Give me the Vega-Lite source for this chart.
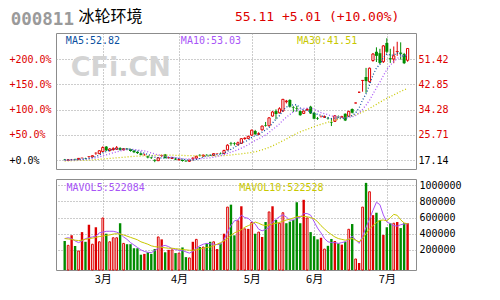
{
"$schema":"https://vega.github.io/schema/vega-lite/v6.json",
"background":"white",
"padding":{"left":8,"top":8,"right":35,"bottom":17},
"spacing":10,
"bounds":"flush",
"config":{"view":{"stroke":"#8c8c8c","strokeWidth":1},"axis":{"labelFont":"DejaVu Sans Mono","labelFontSize":10,"gridColor":"#9a9a9a","gridDash":[1,2],"gridWidth":1,"domain":false,"ticks":false,"labelColor":"#000000"}},
"datasets":{"k":[
{"d":0,"o":17.35,"h":17.5,"l":17.1,"c":17.25,"ck":"dn","v":310000,"vk":"dn","m5":17.2,"m10":17.0,"m30":16.8,"mv5":340000,"mv10":340000},
{"d":1,"o":17.0,"h":17.3,"l":16.9,"c":17.25,"ck":"up","v":256000,"vk":"up","m5":17.2,"m10":17.05,"m30":16.85,"mv5":350000,"mv10":335000},
{"d":2,"o":17.4,"h":17.5,"l":17.2,"c":17.3,"ck":"upS","v":380000,"vk":"upS","m5":17.25,"m10":17.1,"m30":16.9,"mv5":340000,"mv10":330000},
{"d":3,"o":17.4,"h":17.6,"l":17.2,"c":17.3,"ck":"dn","v":248000,"vk":"dn","m5":17.27,"m10":17.15,"m30":16.95,"mv5":310000,"mv10":320000},
{"d":4,"o":17.4,"h":17.8,"l":17.3,"c":17.7,"ck":"up","v":186000,"vk":"up","m5":17.36,"m10":17.2,"m30":17.0,"mv5":290000,"mv10":315000},
{"d":5,"o":17.9,"h":18.0,"l":17.6,"c":17.8,"ck":"upS","v":420000,"vk":"upS","m5":17.47,"m10":17.3,"m30":17.05,"mv5":310000,"mv10":320000},
{"d":6,"o":17.8,"h":17.9,"l":17.5,"c":17.7,"ck":"dn","v":300000,"vk":"dn","m5":17.56,"m10":17.45,"m30":17.1,"mv5":340000,"mv10":330000},
{"d":7,"o":18.4,"h":18.5,"l":17.9,"c":18.2,"ck":"upS","v":510000,"vk":"upS","m5":17.74,"m10":17.55,"m30":17.15,"mv5":350000,"mv10":340000},
{"d":8,"o":18.2,"h":18.7,"l":18.1,"c":18.6,"ck":"up","v":270000,"vk":"up","m5":18.0,"m10":17.7,"m30":17.2,"mv5":360000,"mv10":345000},
{"d":9,"o":19.6,"h":19.8,"l":18.9,"c":19.4,"ck":"upS","v":480000,"vk":"upS","m5":18.34,"m10":17.85,"m30":17.3,"mv5":370000,"mv10":355000},
{"d":10,"o":19.3,"h":20.4,"l":19.2,"c":20.3,"ck":"up","v":300000,"vk":"up","m5":18.84,"m10":18.16,"m30":17.4,"mv5":410000,"mv10":365000},
{"d":11,"o":20.0,"h":21.8,"l":19.9,"c":21.4,"ck":"up","v":595000,"vk":"up","m5":19.58,"m10":18.57,"m30":17.5,"mv5":420000,"mv10":370000},
{"d":12,"o":21.7,"h":21.9,"l":20.2,"c":20.4,"ck":"dn","v":400000,"vk":"dn","m5":20.02,"m10":18.88,"m30":17.6,"mv5":430000,"mv10":380000},
{"d":13,"o":20.4,"h":21.2,"l":20.0,"c":20.9,"ck":"up","v":300000,"vk":"up","m5":20.48,"m10":19.24,"m30":17.7,"mv5":430000,"mv10":385000},
{"d":14,"o":20.7,"h":21.5,"l":20.3,"c":21.0,"ck":"up","v":350000,"vk":"up","m5":20.8,"m10":19.57,"m30":17.8,"mv5":430000,"mv10":395000},
{"d":15,"o":20.8,"h":21.9,"l":20.6,"c":21.3,"ck":"up","v":350000,"vk":"up","m5":21.0,"m10":19.92,"m30":17.9,"mv5":420000,"mv10":400000},
{"d":16,"o":21.2,"h":21.5,"l":20.3,"c":20.6,"ck":"dn","v":530000,"vk":"dn","m5":20.84,"m10":20.21,"m30":18.0,"mv5":400000,"mv10":395000},
{"d":17,"o":20.6,"h":21.2,"l":20.4,"c":21.0,"ck":"up","v":280000,"vk":"up","m5":20.96,"m10":20.49,"m30":18.1,"mv5":360000,"mv10":385000},
{"d":18,"o":21.0,"h":21.2,"l":20.5,"c":20.8,"ck":"dn","v":270000,"vk":"dn","m5":20.94,"m10":20.71,"m30":18.2,"mv5":330000,"mv10":370000},
{"d":19,"o":20.8,"h":21.0,"l":20.0,"c":20.2,"ck":"dn","v":270000,"vk":"dn","m5":20.78,"m10":20.79,"m30":18.3,"mv5":290000,"mv10":355000},
{"d":20,"o":20.3,"h":20.5,"l":19.5,"c":19.8,"ck":"dn","v":220000,"vk":"dn","m5":20.48,"m10":20.74,"m30":18.4,"mv5":260000,"mv10":340000},
{"d":21,"o":19.9,"h":20.1,"l":19.2,"c":19.5,"ck":"dn","v":220000,"vk":"dn","m5":20.26,"m10":20.55,"m30":18.45,"mv5":230000,"mv10":325000},
{"d":22,"o":19.4,"h":19.6,"l":18.7,"c":18.9,"ck":"dn","v":140000,"vk":"dn","m5":19.84,"m10":20.4,"m30":18.5,"mv5":200000,"mv10":300000},
{"d":23,"o":19.1,"h":19.3,"l":18.6,"c":19.0,"ck":"upS","v":150000,"vk":"upS","m5":19.48,"m10":20.21,"m30":18.55,"mv5":180000,"mv10":285000},
{"d":24,"o":18.4,"h":18.6,"l":17.7,"c":18.0,"ck":"dn","v":170000,"vk":"dn","m5":19.04,"m10":19.91,"m30":18.6,"mv5":170000,"mv10":270000},
{"d":25,"o":18.0,"h":18.2,"l":17.5,"c":17.8,"ck":"dn","v":150000,"vk":"dn","m5":18.64,"m10":19.56,"m30":18.65,"mv5":165000,"mv10":250000},
{"d":26,"o":17.2,"h":17.4,"l":16.4,"c":16.9,"ck":"dn","v":210000,"vk":"dn","m5":18.12,"m10":19.19,"m30":18.7,"mv5":190000,"mv10":240000},
{"d":27,"o":16.9,"h":18.1,"l":16.8,"c":17.9,"ck":"up","v":360000,"vk":"up","m5":17.92,"m10":18.88,"m30":18.7,"mv5":220000,"mv10":235000},
{"d":28,"o":18.8,"h":19.0,"l":18.2,"c":18.5,"ck":"upS","v":330000,"vk":"upS","m5":17.82,"m10":18.65,"m30":18.75,"mv5":245000,"mv10":230000},
{"d":29,"o":19.0,"h":19.2,"l":17.7,"c":17.8,"ck":"dn","v":170000,"vk":"dn","m5":17.78,"m10":18.41,"m30":18.8,"mv5":256000,"mv10":225000},
{"d":30,"o":18.1,"h":18.2,"l":17.6,"c":17.9,"ck":"upS","v":200000,"vk":"upS","m5":17.8,"m10":18.22,"m30":18.8,"mv5":240000,"mv10":220000},
{"d":31,"o":17.7,"h":18.0,"l":17.5,"c":17.9,"ck":"up","v":200000,"vk":"up","m5":18.0,"m10":18.06,"m30":18.8,"mv5":215000,"mv10":220000},
{"d":32,"o":17.6,"h":17.8,"l":17.1,"c":17.3,"ck":"dn","v":160000,"vk":"dn","m5":17.88,"m10":17.9,"m30":18.75,"mv5":205000,"mv10":215000},
{"d":33,"o":17.2,"h":17.6,"l":17.0,"c":17.4,"ck":"up","v":160000,"vk":"up","m5":17.66,"m10":17.74,"m30":18.7,"mv5":195000,"mv10":210000},
{"d":34,"o":17.2,"h":17.3,"l":16.6,"c":16.8,"ck":"dn","v":230000,"vk":"dn","m5":17.46,"m10":17.62,"m30":18.7,"mv5":190000,"mv10":205000},
{"d":35,"o":16.9,"h":17.0,"l":16.5,"c":16.7,"ck":"dn","v":110000,"vk":"dn","m5":17.22,"m10":17.51,"m30":18.65,"mv5":175000,"mv10":200000},
{"d":36,"o":16.7,"h":17.2,"l":16.5,"c":17.1,"ck":"up","v":100000,"vk":"up","m5":17.06,"m10":17.53,"m30":18.6,"mv5":160000,"mv10":195000},
{"d":37,"o":17.9,"h":18.1,"l":17.0,"c":17.6,"ck":"upS","v":300000,"vk":"upS","m5":17.12,"m10":17.5,"m30":18.6,"mv5":180000,"mv10":195000},
{"d":38,"o":17.8,"h":18.6,"l":17.6,"c":18.4,"ck":"up","v":330000,"vk":"up","m5":17.32,"m10":17.49,"m30":18.55,"mv5":220000,"mv10":200000},
{"d":39,"o":18.9,"h":19.1,"l":18.4,"c":18.7,"ck":"dn","v":235000,"vk":"dn","m5":17.7,"m10":17.58,"m30":18.55,"mv5":250000,"mv10":210000},
{"d":40,"o":18.5,"h":19.0,"l":18.2,"c":18.8,"ck":"up","v":235000,"vk":"up","m5":18.12,"m10":17.67,"m30":18.55,"mv5":270000,"mv10":220000},
{"d":41,"o":18.9,"h":19.1,"l":18.6,"c":18.8,"ck":"dn","v":280000,"vk":"dn","m5":18.46,"m10":17.76,"m30":18.55,"mv5":280000,"mv10":230000},
{"d":42,"o":18.9,"h":19.0,"l":18.5,"c":18.7,"ck":"dn","v":300000,"vk":"dn","m5":18.68,"m10":17.9,"m30":18.55,"mv5":275000,"mv10":235000},
{"d":43,"o":18.7,"h":19.4,"l":18.6,"c":19.3,"ck":"up","v":300000,"vk":"up","m5":18.86,"m10":18.09,"m30":18.55,"mv5":270000,"mv10":250000},
{"d":44,"o":19.4,"h":19.5,"l":19.1,"c":19.3,"ck":"upS","v":210000,"vk":"upS","m5":18.98,"m10":18.34,"m30":18.55,"mv5":265000,"mv10":270000},
{"d":45,"o":19.5,"h":19.7,"l":19.2,"c":19.4,"ck":"dn","v":280000,"vk":"dn","m5":19.1,"m10":18.61,"m30":18.6,"mv5":270000,"mv10":290000},
{"d":46,"o":19.4,"h":20.6,"l":19.2,"c":20.4,"ck":"up","v":400000,"vk":"upS","m5":19.42,"m10":18.94,"m30":18.65,"mv5":330000,"mv10":310000},
{"d":47,"o":20.6,"h":22.5,"l":20.5,"c":22.2,"ck":"up","v":730000,"vk":"up","m5":20.12,"m10":19.4,"m30":18.75,"mv5":420000,"mv10":340000},
{"d":48,"o":22.8,"h":23.3,"l":22.0,"c":22.6,"ck":"dn","v":760000,"vk":"dn","m5":20.78,"m10":19.82,"m30":18.85,"mv5":500000,"mv10":380000},
{"d":49,"o":22.8,"h":23.2,"l":22.1,"c":22.6,"ck":"dn","v":380000,"vk":"dn","m5":21.44,"m10":20.21,"m30":19.0,"mv5":560000,"mv10":410000},
{"d":50,"o":22.3,"h":23.4,"l":22.1,"c":23.0,"ck":"up","v":560000,"vk":"up","m5":22.16,"m10":20.63,"m30":19.1,"mv5":570000,"mv10":430000},
{"d":51,"o":22.8,"h":24.6,"l":22.6,"c":24.4,"ck":"up","v":740000,"vk":"upS","m5":22.96,"m10":21.19,"m30":19.25,"mv5":630000,"mv10":450000},
{"d":52,"o":24.7,"h":24.9,"l":24.0,"c":24.3,"ck":"upS","v":460000,"vk":"up","m5":23.38,"m10":21.75,"m30":19.4,"mv5":600000,"mv10":480000},
{"d":53,"o":24.5,"h":25.4,"l":24.3,"c":25.2,"ck":"up","v":460000,"vk":"upS","m5":23.9,"m10":22.34,"m30":19.55,"mv5":590000,"mv10":500000},
{"d":54,"o":25.6,"h":27.5,"l":25.4,"c":27.3,"ck":"up","v":540000,"vk":"up","m5":24.84,"m10":23.14,"m30":19.7,"mv5":550000,"mv10":520000},
{"d":55,"o":27.0,"h":27.4,"l":25.7,"c":25.9,"ck":"dn","v":400000,"vk":"dn","m5":25.42,"m10":23.79,"m30":19.95,"mv5":520000,"mv10":545000},
{"d":56,"o":25.9,"h":26.6,"l":25.6,"c":26.1,"ck":"up","v":420000,"vk":"up","m5":25.76,"m10":24.36,"m30":20.25,"mv5":456000,"mv10":530000},
{"d":57,"o":27.4,"h":28.8,"l":27.2,"c":28.7,"ck":"up","v":360000,"vk":"upS","m5":26.64,"m10":25.01,"m30":20.6,"mv5":436000,"mv10":510000},
{"d":58,"o":29.0,"h":30.1,"l":28.5,"c":28.8,"ck":"dn","v":545000,"vk":"dn","m5":27.36,"m10":25.63,"m30":21.0,"mv5":453000,"mv10":500000},
{"d":59,"o":28.8,"h":31.7,"l":28.6,"c":31.5,"ck":"up","v":670000,"vk":"up","m5":28.2,"m10":26.52,"m30":21.4,"mv5":479000,"mv10":510000},
{"d":60,"o":32.1,"h":33.8,"l":31.9,"c":33.5,"ck":"up","v":740000,"vk":"upS","m5":29.72,"m10":27.57,"m30":21.95,"mv5":547000,"mv10":520000},
{"d":61,"o":33.8,"h":34.4,"l":31.0,"c":32.8,"ck":"dn","v":570000,"vk":"dn","m5":31.06,"m10":28.41,"m30":22.5,"mv5":577000,"mv10":530000},
{"d":62,"o":33.2,"h":35.1,"l":33.0,"c":34.6,"ck":"up","v":530000,"vk":"up","m5":32.24,"m10":29.44,"m30":23.1,"mv5":611000,"mv10":540000},
{"d":63,"o":33.8,"h":37.9,"l":33.6,"c":37.8,"ck":"up","v":660000,"vk":"up","m5":34.04,"m10":30.7,"m30":23.7,"mv5":634000,"mv10":555000},
{"d":64,"o":37.0,"h":37.6,"l":36.4,"c":37.2,"ck":"up","v":530000,"vk":"dn","m5":35.18,"m10":31.69,"m30":24.3,"mv5":606000,"mv10":570000},
{"d":65,"o":37.6,"h":37.8,"l":35.0,"c":35.3,"ck":"dn","v":550000,"vk":"dn","m5":35.54,"m10":32.63,"m30":24.95,"mv5":568000,"mv10":580000},
{"d":66,"o":35.1,"h":35.5,"l":33.5,"c":34.9,"ck":"dn","v":570000,"vk":"dn","m5":35.96,"m10":33.51,"m30":25.6,"mv5":570000,"mv10":595000},
{"d":67,"o":34.7,"h":35.6,"l":33.6,"c":34.5,"ck":"dn","v":790000,"vk":"dn","m5":35.94,"m10":34.09,"m30":26.2,"mv5":600000,"mv10":610000},
{"d":68,"o":33.8,"h":34.0,"l":32.2,"c":32.4,"ck":"dn","v":530000,"vk":"dn","m5":34.86,"m10":34.45,"m30":26.7,"mv5":600000,"mv10":615000},
{"d":69,"o":33.0,"h":34.0,"l":32.8,"c":33.8,"ck":"up","v":820000,"vk":"upS","m5":34.18,"m10":34.68,"m30":27.2,"mv5":650000,"mv10":615000},
{"d":70,"o":34.2,"h":34.8,"l":33.9,"c":34.4,"ck":"up","v":595000,"vk":"up","m5":34.0,"m10":34.77,"m30":27.6,"mv5":650000,"mv10":610000},
{"d":71,"o":35.3,"h":35.6,"l":32.8,"c":33.0,"ck":"dn","v":420000,"vk":"dn","m5":33.62,"m10":34.79,"m30":28.05,"mv5":630000,"mv10":600000},
{"d":72,"o":33.2,"h":33.5,"l":31.0,"c":31.2,"ck":"dn","v":370000,"vk":"dn","m5":32.96,"m10":34.45,"m30":28.5,"mv5":550000,"mv10":585000},
{"d":73,"o":31.4,"h":31.8,"l":30.8,"c":31.2,"ck":"dn","v":330000,"vk":"dn","m5":32.72,"m10":33.79,"m30":28.9,"mv5":470000,"mv10":550000},
{"d":74,"o":32.0,"h":32.3,"l":31.6,"c":31.9,"ck":"upS","v":350000,"vk":"upS","m5":32.34,"m10":33.26,"m30":29.3,"mv5":410000,"mv10":500000},
{"d":75,"o":31.7,"h":32.3,"l":31.5,"c":31.9,"ck":"up","v":210000,"vk":"up","m5":31.84,"m10":32.92,"m30":29.65,"mv5":340000,"mv10":460000},
{"d":76,"o":31.4,"h":31.8,"l":30.9,"c":31.3,"ck":"dn","v":250000,"vk":"dn","m5":31.5,"m10":32.56,"m30":30.0,"mv5":300000,"mv10":420000},
{"d":77,"o":30.1,"h":31.4,"l":28.7,"c":29.9,"ck":"dn","v":335000,"vk":"dn","m5":31.24,"m10":32.1,"m30":30.3,"mv5":290000,"mv10":390000},
{"d":78,"o":30.3,"h":32.4,"l":30.1,"c":32.2,"ck":"up","v":310000,"vk":"upS","m5":31.44,"m10":32.08,"m30":30.7,"mv5":290000,"mv10":360000},
{"d":79,"o":31.9,"h":32.3,"l":31.4,"c":31.7,"ck":"dn","v":280000,"vk":"dn","m5":31.4,"m10":31.87,"m30":31.0,"mv5":280000,"mv10":340000},
{"d":80,"o":31.7,"h":32.2,"l":31.5,"c":31.9,"ck":"up","v":265000,"vk":"upS","m5":31.4,"m10":31.62,"m30":31.3,"mv5":290000,"mv10":330000},
{"d":81,"o":32.9,"h":33.0,"l":30.4,"c":30.6,"ck":"dn","v":300000,"vk":"dn","m5":31.26,"m10":31.38,"m30":31.6,"mv5":300000,"mv10":320000},
{"d":82,"o":32.0,"h":33.9,"l":31.8,"c":33.7,"ck":"up","v":455000,"vk":"up","m5":32.02,"m10":31.63,"m30":31.9,"mv5":330000,"mv10":330000},
{"d":83,"o":34.5,"h":34.7,"l":33.0,"c":33.23,"ck":"dn","v":520000,"vk":"dn","m5":32.23,"m10":31.83,"m30":32.2,"mv5":370000,"mv10":340000},
{"d":84,"o":36.55,"h":36.55,"l":36.55,"c":36.55,"ck":"up","v":87000,"vk":"up","m5":33.2,"m10":32.3,"m30":32.6,"mv5":325000,"mv10":320000},
{"d":85,"o":40.21,"h":40.21,"l":40.21,"c":40.21,"ck":"up","v":37000,"vk":"upS","m5":34.86,"m10":33.13,"m30":33.0,"mv5":280000,"mv10":300000},
{"d":86,"o":44.23,"h":44.23,"l":40.4,"c":44.23,"ck":"up","v":730000,"vk":"up","m5":37.58,"m10":34.42,"m30":33.5,"mv5":366000,"mv10":340000},
{"d":87,"o":45.4,"h":48.5,"l":40.0,"c":44.0,"ck":"dn","v":1030000,"vk":"dn","m5":39.64,"m10":35.83,"m30":34.0,"mv5":480000,"mv10":400000},
{"d":88,"o":43.8,"h":48.6,"l":43.5,"c":48.4,"ck":"up","v":920000,"vk":"up","m5":42.68,"m10":37.45,"m30":34.7,"mv5":580000,"mv10":460000},
{"d":89,"o":51.0,"h":53.5,"l":50.6,"c":53.24,"ck":"up","v":630000,"vk":"upS","m5":46.02,"m10":39.61,"m30":35.4,"mv5":690000,"mv10":500000},
{"d":90,"o":54.0,"h":55.5,"l":50.5,"c":52.6,"ck":"dn","v":660000,"vk":"dn","m5":48.49,"m10":41.68,"m30":36.1,"mv5":790000,"mv10":537000},
{"d":91,"o":53.5,"h":55.0,"l":49.8,"c":50.2,"ck":"dn","v":570000,"vk":"dn","m5":49.69,"m10":43.64,"m30":36.8,"mv5":760000,"mv10":565000},
{"d":92,"o":50.6,"h":56.3,"l":50.2,"c":56.0,"ck":"up","v":385000,"vk":"upS","m5":52.09,"m10":45.87,"m30":37.5,"mv5":633000,"mv10":570000},
{"d":93,"o":57.0,"h":58.6,"l":53.6,"c":54.0,"ck":"dn","v":480000,"vk":"dn","m5":53.21,"m10":47.94,"m30":38.1,"mv5":545000,"mv10":560000},
{"d":94,"o":51.8,"h":55.0,"l":50.2,"c":51.4,"ck":"dn","v":530000,"vk":"dn","m5":52.84,"m10":49.43,"m30":38.7,"mv5":525000,"mv10":597000},
{"d":95,"o":51.5,"h":55.8,"l":50.1,"c":52.6,"ck":"up","v":530000,"vk":"up","m5":52.84,"m10":50.67,"m30":39.3,"mv5":500000,"mv10":640000},
{"d":96,"o":54.2,"h":57.4,"l":52.6,"c":53.9,"ck":"upS","v":545000,"vk":"upS","m5":53.58,"m10":51.63,"m30":39.9,"mv5":494000,"mv10":628000},
{"d":97,"o":53.7,"h":57.2,"l":51.3,"c":53.3,"ck":"dn","v":470000,"vk":"dn","m5":53.04,"m10":52.56,"m30":40.5,"mv5":511000,"mv10":572000},
{"d":98,"o":53.2,"h":53.6,"l":49.8,"c":50.1,"ck":"dn","v":530000,"vk":"dn","m5":52.26,"m10":52.73,"m30":41.0,"mv5":521000,"mv10":533000},
{"d":99,"o":51.1,"h":55.11,"l":50.6,"c":55.11,"ck":"up","v":530000,"vk":"upS","m5":52.82,"m10":53.03,"m30":41.51,"mv5":522084,"mv10":522528}
]},
"vconcat":[
{
"width":360,"height":136,
"data":{"name":"k"},
"resolve":{"axis":{"x":"independent","y":"independent"}},
"layer":[
{"data":{"values":[{"d":1.74,"p":45.74,"t":"CFi.CN"}]},
 "mark":{"type":"text","font":"DejaVu Sans","fontWeight":"bold","fontSize":27,"color":"#d4d4d4","align":"left","baseline":"alphabetic"},
 "encoding":{"x":{"field":"d","type":"quantitative","scale":{"domain":[-1.067,99.98],"nice":false,"zero":false},"axis":null},
  "y":{"field":"p","type":"quantitative","scale":{"domain":[14.08,60.38],"nice":false,"zero":false},"axis":null},
  "text":{"field":"t"}}},
{"mark":{"type":"rule","strokeWidth":1},
 "encoding":{"x":{"field":"d","type":"quantitative","scale":{"domain":[-1.067,99.98],"nice":false,"zero":false},"axis":{"values":[11,33,54,72,93],"grid":true,"labels":false,"title":null}},
  "y":{"field":"l","type":"quantitative","scale":{"domain":[14.08,60.38],"nice":false,"zero":false},"axis":{"orient":"left","values":[17.14,25.71,34.28,42.85,51.42],"grid":true,"title":null,"labelAlign":"left","labelPadding":47,"labelExpr":"'+' + format((datum.value/17.14-1)*100, '.1f') + '%'","labelColor":{"condition":{"test":"datum.value < 20","value":"#000000"},"value":"#dd0000"}}},
  "y2":{"field":"h"},
  "color":{"field":"ck","type":"nominal","scale":{"domain":["up","upS","dn"],"range":["#dd0000","#dd0000","#008c00"]},"legend":null}}},
{"transform":[{"filter":"datum.ck != 'up'"}],
 "mark":{"type":"bar","size":3},
 "encoding":{"x":{"field":"d","type":"quantitative","scale":{"domain":[-1.067,99.98],"nice":false,"zero":false},"axis":null},
  "y":{"field":"o","type":"quantitative","scale":{"domain":[14.08,60.38],"nice":false,"zero":false},"axis":{"orient":"right","values":[17.14,25.71,34.28,42.85,51.42],"grid":false,"title":null,"labelPadding":2,"format":".2f","labelColor":{"condition":{"test":"datum.value < 20","value":"#000000"},"value":"#dd0000"}}},
  "y2":{"field":"c"},
  "color":{"field":"ck","type":"nominal","scale":{"domain":["up","upS","dn"],"range":["#dd0000","#dd0000","#008c00"]},"legend":null}}},
{"transform":[{"filter":"datum.ck == 'up'"}],
 "mark":{"type":"bar","size":2.2,"fill":"#ffffff","stroke":"#dd0000","strokeWidth":1},
 "encoding":{"x":{"field":"d","type":"quantitative","scale":{"domain":[-1.067,99.98],"nice":false,"zero":false},"axis":null},
  "y":{"field":"o","type":"quantitative","scale":{"domain":[14.08,60.38],"nice":false,"zero":false},"axis":null},
  "y2":{"field":"c"}}},
{"mark":{"type":"line","color":"#c8c800","strokeWidth":1.3,"strokeDash":[1,2]},
 "encoding":{"x":{"field":"d","type":"quantitative","scale":{"domain":[-1.067,99.98],"nice":false,"zero":false},"axis":null},
  "y":{"field":"m30","type":"quantitative","scale":{"domain":[14.08,60.38],"nice":false,"zero":false},"axis":null}}},
{"mark":{"type":"line","color":"#a855f7","strokeWidth":1.3,"strokeDash":[1,2]},
 "encoding":{"x":{"field":"d","type":"quantitative","scale":{"domain":[-1.067,99.98],"nice":false,"zero":false},"axis":null},
  "y":{"field":"m10","type":"quantitative","scale":{"domain":[14.08,60.38],"nice":false,"zero":false},"axis":null}}},
{"mark":{"type":"line","color":"#0a4fa0","strokeWidth":1.3,"strokeDash":[1,2]},
 "encoding":{"x":{"field":"d","type":"quantitative","scale":{"domain":[-1.067,99.98],"nice":false,"zero":false},"axis":null},
  "y":{"field":"m5","type":"quantitative","scale":{"domain":[14.08,60.38],"nice":false,"zero":false},"axis":null}}},
{"data":{"values":[{"d":0.34,"p":56.74,"t":"MA5:52.82"}]},
 "mark":{"type":"text","font":"DejaVu Sans Mono","fontSize":10,"color":"#0a4fa0","align":"left","baseline":"alphabetic"},
 "encoding":{"x":{"field":"d","type":"quantitative","scale":{"domain":[-1.067,99.98],"nice":false,"zero":false},"axis":null},
  "y":{"field":"p","type":"quantitative","scale":{"domain":[14.08,60.38],"nice":false,"zero":false},"axis":null},"text":{"field":"t"}}},
{"data":{"values":[{"d":33.54,"p":56.74,"t":"MA10:53.03"}]},
 "mark":{"type":"text","font":"DejaVu Sans Mono","fontSize":10,"color":"#a855f7","align":"left","baseline":"alphabetic"},
 "encoding":{"x":{"field":"d","type":"quantitative","scale":{"domain":[-1.067,99.98],"nice":false,"zero":false},"axis":null},
  "y":{"field":"p","type":"quantitative","scale":{"domain":[14.08,60.38],"nice":false,"zero":false},"axis":null},"text":{"field":"t"}}},
{"data":{"values":[{"d":67.06,"p":56.74,"t":"MA30:41.51"}]},
 "mark":{"type":"text","font":"DejaVu Sans Mono","fontSize":10,"color":"#c8c800","align":"left","baseline":"alphabetic"},
 "encoding":{"x":{"field":"d","type":"quantitative","scale":{"domain":[-1.067,99.98],"nice":false,"zero":false},"axis":null},
  "y":{"field":"p","type":"quantitative","scale":{"domain":[14.08,60.38],"nice":false,"zero":false},"axis":null},"text":{"field":"t"}}},
{"data":{"values":[{"d":-15.58,"p":63.11,"t":"000811"}]},
 "mark":{"type":"text","font":"DejaVu Sans Mono","fontWeight":"bold","fontSize":17.5,"color":"#9a9a9a","align":"left","baseline":"alphabetic"},
 "encoding":{"x":{"field":"d","type":"quantitative","scale":{"domain":[-1.067,99.98],"nice":false,"zero":false},"axis":null},
  "y":{"field":"p","type":"quantitative","scale":{"domain":[14.08,60.38],"nice":false,"zero":false},"axis":null},"text":{"field":"t"}}},
{"data":{"values":[{"d":3.99,"p":64.13,"t":"冰轮环境"}]},
 "mark":{"type":"text","font":"Noto Sans CJK SC","fontSize":16,"color":"#000000","align":"left","baseline":"alphabetic"},
 "encoding":{"x":{"field":"d","type":"quantitative","scale":{"domain":[-1.067,99.98],"nice":false,"zero":false},"axis":null},
  "y":{"field":"p","type":"quantitative","scale":{"domain":[14.08,60.38],"nice":false,"zero":false},"axis":null},"text":{"field":"t"}}},
{"data":{"values":[{"d":49.18,"p":64.47,"t":"55.11 +5.01 (+10.00%)"}]},
 "mark":{"type":"text","font":"DejaVu Sans Mono","fontSize":13,"color":"#dd0000","align":"left","baseline":"alphabetic"},
 "encoding":{"x":{"field":"d","type":"quantitative","scale":{"domain":[-1.067,99.98],"nice":false,"zero":false},"axis":null},
  "y":{"field":"p","type":"quantitative","scale":{"domain":[14.08,60.38],"nice":false,"zero":false},"axis":null},"text":{"field":"t"}}}
]
},
{
"width":360,"height":91,
"data":{"name":"k"},
"resolve":{"axis":{"x":"independent","y":"independent"}},
"layer":[
{"transform":[{"filter":"datum.vk != 'up'"}],
 "mark":{"type":"bar","size":2.4},
 "encoding":{"x":{"field":"d","type":"quantitative","scale":{"domain":[-1.067,99.98],"nice":false,"zero":false},"axis":{"orient":"bottom","values":[11,33,54,72,93],"grid":true,"title":null,"labelFont":"Noto Sans CJK SC","labelFontSize":11,"labelPadding":3,"labelExpr":"datum.value==11?'3月':datum.value==33?'4月':datum.value==54?'5月':datum.value==72?'6月':'7月'"}},
  "y":{"field":"v","type":"quantitative","scale":{"domain":[-49600,1078000],"nice":false,"zero":false},"axis":{"orient":"right","values":[200000,400000,600000,800000,1000000],"format":"d","grid":true,"title":null,"labelPadding":3}},
  "y2":{"datum":-49600},
  "color":{"field":"vk","type":"nominal","scale":{"domain":["up","upS","dn"],"range":["#dd0000","#dd0000","#008c00"]},"legend":null}}},
{"transform":[{"filter":"datum.vk == 'up'"}],
 "mark":{"type":"bar","size":1.7,"fill":"#ffffff","stroke":"#dd0000","strokeWidth":1},
 "encoding":{"x":{"field":"d","type":"quantitative","scale":{"domain":[-1.067,99.98],"nice":false,"zero":false},"axis":null},
  "y":{"field":"v","type":"quantitative","scale":{"domain":[-49600,1078000],"nice":false,"zero":false},"axis":null},
  "y2":{"datum":-49600}}},
{"mark":{"type":"line","color":"#a855f7","strokeWidth":1},
 "encoding":{"x":{"field":"d","type":"quantitative","scale":{"domain":[-1.067,99.98],"nice":false,"zero":false},"axis":null},
  "y":{"field":"mv5","type":"quantitative","scale":{"domain":[-49600,1078000],"nice":false,"zero":false},"axis":null}}},
{"mark":{"type":"line","color":"#c8c800","strokeWidth":1},
 "encoding":{"x":{"field":"d","type":"quantitative","scale":{"domain":[-1.067,99.98],"nice":false,"zero":false},"axis":null},
  "y":{"field":"mv10","type":"quantitative","scale":{"domain":[-49600,1078000],"nice":false,"zero":false},"axis":null}}},
{"data":{"values":[{"d":0.53,"v":929000,"t":"MAVOL5:522084"}]},
 "mark":{"type":"text","font":"DejaVu Sans Mono","fontSize":10,"color":"#a855f7","align":"left","baseline":"alphabetic"},
 "encoding":{"x":{"field":"d","type":"quantitative","scale":{"domain":[-1.067,99.98],"nice":false,"zero":false},"axis":null},
  "y":{"field":"v","type":"quantitative","scale":{"domain":[-49600,1078000],"nice":false,"zero":false},"axis":null},"text":{"field":"t"}}},
{"data":{"values":[{"d":50.38,"v":929000,"t":"MAVOL10:522528"}]},
 "mark":{"type":"text","font":"DejaVu Sans Mono","fontSize":10,"color":"#c8c800","align":"left","baseline":"alphabetic"},
 "encoding":{"x":{"field":"d","type":"quantitative","scale":{"domain":[-1.067,99.98],"nice":false,"zero":false},"axis":null},
  "y":{"field":"v","type":"quantitative","scale":{"domain":[-49600,1078000],"nice":false,"zero":false},"axis":null},"text":{"field":"t"}}}
]
}
]
}
